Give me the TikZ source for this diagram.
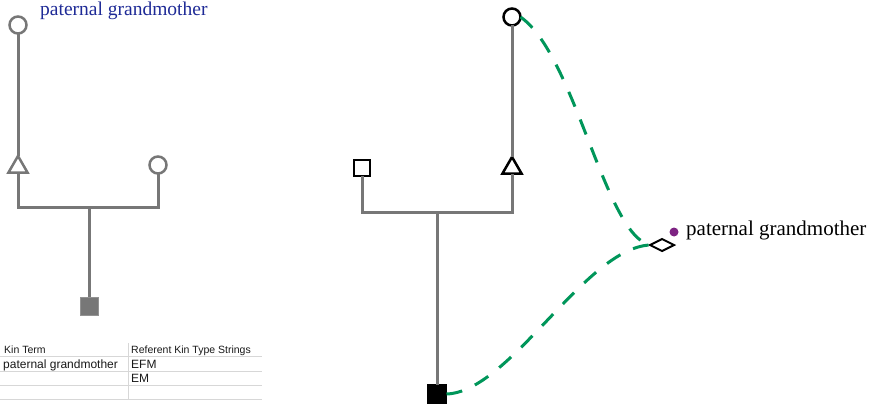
\documentclass[tikz,border=0pt]{standalone}
\usepackage{fontspec}
\setmainfont{Liberation Serif}
\newfontfamily\tabfont{Liberation Sans}
\usetikzlibrary{shapes.geometric}
\definecolor{kgray}{RGB}{119,119,119}
\definecolor{kblue}{RGB}{30,42,150}
\definecolor{kgreen}{RGB}{0,150,90}
\definecolor{kpurple}{RGB}{125,35,130}
\definecolor{tline}{RGB}{215,215,215}
\definecolor{ttext}{RGB}{25,25,25}
\tikzset{
  kinline/.style={draw=kgray, line width=3pt},
  lcirc/.style={circle, draw=kgray, line width=2.5pt, fill=white, minimum size=17pt, inner sep=0pt, outer sep=0pt},
  ltri/.style={regular polygon, regular polygon sides=3, draw=kgray, line width=2.5pt, fill=white, minimum size=22pt, inner sep=0pt, outer sep=0pt},
  lsq/.style={rectangle, draw=kgray!80, line width=1pt, fill=kgray, minimum size=18pt, inner sep=0pt, outer sep=0pt},
  rcirc/.style={circle, draw=black, line width=2.5pt, fill=white, minimum size=17pt, inner sep=0pt, outer sep=0pt},
  rtri/.style={regular polygon, regular polygon sides=3, draw=black, line width=2.5pt, fill=white, minimum size=22pt, inner sep=0pt, outer sep=0pt},
  rsqopen/.style={rectangle, draw=black, line width=2.5pt, fill=white, minimum size=16pt, inner sep=0pt, outer sep=0pt},
  rsqfill/.style={rectangle, draw=black, line width=1pt, fill=black, minimum size=19pt, inner sep=0pt, outer sep=0pt},
  egoshape/.style={diamond, draw=black, line width=2pt, fill=white, minimum width=24pt, minimum height=12pt, inner sep=0pt, outer sep=0pt},
  refline/.style={draw=kgreen, line width=3pt, dash pattern=on 16pt off 14pt},
  tabrule/.style={draw=tline, line width=1pt},
  headtxt/.style={anchor=base west, inner sep=0pt, text=ttext, font=\tabfont\fontsize{10.5}{12}\selectfont},
  celltxt/.style={anchor=base west, inner sep=0pt, text=ttext, font=\tabfont\fontsize{12}{14}\selectfont},
}
\begin{document}
\begin{tikzpicture}[x=1pt,y=-1pt]
\useasboundingbox (0,0) rectangle (874,412);
% ---------- left diagram ----------
\node[lcirc] (lc1) at (18,25) {};
\node[ltri] (lt) at (18,167) {};
\node[lcirc] (lc2) at (158,165) {};
\node[lsq] (ls) at (89,306) {};
\coordinate (lj) at (89,207);
\draw[kinline] (lc1.south) -- (lt.corner 1);
\draw[kinline] (lt.south) |- (lj) -| (lc2.south);
\draw[kinline] (lj) -- (ls.north);
\node[anchor=base west, inner sep=0pt, text=kblue, font=\fontsize{19.5}{22}\selectfont] (llab) at (40,16) {paternal grandmother};
% ---------- table ----------
\coordinate (tl) at (0,356);
\coordinate (tr) at (262,356);
\draw[tabrule] (tl) -- (tr);
\draw[tabrule] (0,371) -- (262,371);
\draw[tabrule] (0,385) -- (262,385);
\draw[tabrule] (0,399) -- (262,399);
\draw[tabrule] (128,343) -- (128,399);
\node[headtxt] (h1) at (4,353) {Kin Term};
\node[headtxt] (h2) at (131,353) {Referent Kin Type Strings};
\node[celltxt] (c11) at (3,368) {paternal grandmother};
\node[celltxt] (c12) at (131,368) {EFM};
\node[celltxt] (c22) at (131,382) {EM};
% ---------- right diagram ----------
\node[rcirc] (rc) at (512,17) {};
\node[rtri] (rt) at (512,168) {};
\node[rsqopen] (rq) at (362,168) {};
\node[rsqfill] (rs) at (437,394) {};
\coordinate (rj) at (437,212);
\draw[kinline] (rc.south) -- (rt.corner 1);
\draw[kinline] (rq.south) |- (rj) -| (rt.south);
\draw[kinline] (rj) -- (rs.north);
\node[egoshape] (dm) at (662,245) {};
\node[circle, fill=kpurple, minimum size=9pt, inner sep=0pt] (dot) at (674,232) {};
\node[anchor=base west, inner sep=0pt, font=\fontsize{21}{24}\selectfont] (rlab) at (686,235) {paternal grandmother};
\draw[refline] (rc.east) .. controls (575,55) and (605,235) .. (dm.west);
\draw[refline] (rs.east) .. controls (510,392) and (585,248) .. (dm.west);
\end{tikzpicture}
\end{document}
